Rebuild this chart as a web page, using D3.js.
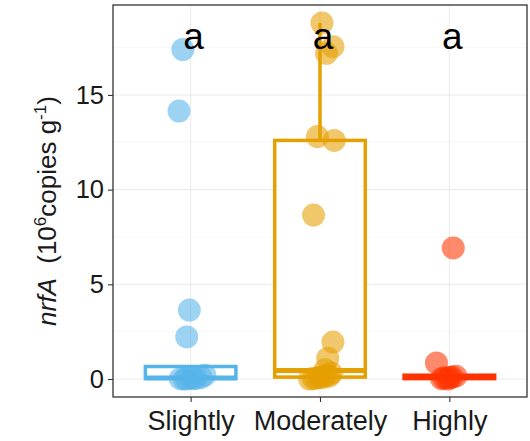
<!DOCTYPE html>
<html>
<head>
<meta charset="utf-8">
<script src="https://cdn.jsdelivr.net/npm/d3@7"></script>
<style>
  html, body { margin: 0; padding: 0; background: #fff; }
  svg { display: block; font-family: "Liberation Sans", Arial, sans-serif; }
</style>
</head>
<body>
<svg id="chart" width="530" height="441"></svg>
<script>
// Salinity groups
const categories = ["Slightly", "Moderately", "Highly"];
const colors = ["#56B4E9", "#E69F00", "#FF3300"];
const letters = ["a", "a", "a"];

// nrfA abundance per sample (10^6 copies g^-1) and horizontal jitter (category units)
const slightlyValues = [17.4, 14.15, 3.64, 2.22, 0.2, 0.02, 0.01, 0.05, 0.03, 0.08, 0.0, 0.04];
const slightlyJitter = [-0.06, -0.09, -0.01, -0.03, 0.11, -0.08, -0.03, 0.0, 0.04, 0.08, -0.05, 0.02];
const moderatelyValues = [18.8, 17.55, 17.2, 12.8, 12.6, 8.66, 1.95, 1.1, 0.5, 0.0, 0.05, 0.1, 0.2, 0.3, 0.02, 0.08, 0.15];
const moderatelyJitter = [0.015, 0.1, 0.05, -0.02, 0.11, -0.05, 0.1, 0.06, 0.04, -0.08, -0.03, 0.0, 0.05, 0.09, -0.05, 0.02, 0.07];
const highlyValues = [6.92, 0.85, 0.05, 0.1, 0.0, 0.15, 0.02, 0.08];
const highlyJitter = [0.03, -0.1, -0.04, 0.02, -0.01, 0.05, -0.06, 0.0];

// Box summaries: lower whisker, Q1, median, Q3, upper whisker
const boxMin = [0.0, 0.0, 0.0];
const boxQ1 = [0.02, 0.1, 0.02];
const boxMedian = [0.06, 0.45, 0.1];
const boxQ3 = [0.66, 12.6, 0.2];
const boxMax = [0.2, 18.8, 0.3];

const yTicks = [0, 5, 10, 15];
const yMinor = [2.5, 7.5, 12.5, 17.5];

const groups = [
  { values: slightlyValues, jitter: slightlyJitter },
  { values: moderatelyValues, jitter: moderatelyJitter },
  { values: highlyValues, jitter: highlyJitter }
];

const svg = d3.select("#chart");
const panel = { left: 113, right: 527, top: 5, bottom: 397 };

const x = d3.scalePoint().domain(categories).range([panel.left, panel.right]).padding(0.6);
const y = d3.scaleLinear().domain([-0.95, 19.75]).range([panel.bottom, panel.top]);
const step = x.step();

// grid
const grid = svg.append("g");
grid.selectAll("line.minor").data(yMinor).join("line")
  .attr("x1", panel.left).attr("x2", panel.right)
  .attr("y1", d => y(d)).attr("y2", d => y(d))
  .attr("stroke", "#f2f2f2").attr("stroke-width", 0.6);
grid.selectAll("line.majy").data(yTicks).join("line")
  .attr("x1", panel.left).attr("x2", panel.right)
  .attr("y1", d => y(d)).attr("y2", d => y(d))
  .attr("stroke", "#ebebeb").attr("stroke-width", 1.1);
grid.selectAll("line.majx").data(categories).join("line")
  .attr("x1", d => x(d)).attr("x2", d => x(d))
  .attr("y1", panel.top).attr("y2", panel.bottom)
  .attr("stroke", "#ebebeb").attr("stroke-width", 1.1);

// boxplots
const boxW = step * 0.7;
const boxes = svg.append("g");
categories.forEach((c, i) => {
  const g = boxes.append("g");
  const cx = x(c);
  const sw = 3.5;
  g.append("line")
    .attr("x1", cx).attr("x2", cx)
    .attr("y1", y(boxQ3[i])).attr("y2", y(boxMax[i]))
    .attr("stroke", colors[i]).attr("stroke-width", sw);
  g.append("line")
    .attr("x1", cx).attr("x2", cx)
    .attr("y1", y(boxQ1[i])).attr("y2", y(boxMin[i]))
    .attr("stroke", colors[i]).attr("stroke-width", sw);
  g.append("rect")
    .attr("x", cx - boxW / 2).attr("width", boxW)
    .attr("y", y(boxQ3[i])).attr("height", y(boxQ1[i]) - y(boxQ3[i]))
    .attr("fill", "#fff").attr("stroke", colors[i]).attr("stroke-width", sw);
  g.append("line")
    .attr("x1", cx - boxW / 2).attr("x2", cx + boxW / 2)
    .attr("y1", y(boxMedian[i])).attr("y2", y(boxMedian[i]))
    .attr("stroke", colors[i]).attr("stroke-width", sw * 1.4);
});

// jittered samples
const pts = svg.append("g");
groups.forEach((grp, i) => {
  pts.selectAll(null).data(grp.values.map((v, k) => ({ v, j: grp.jitter[k] })))
    .join("circle")
    .attr("cx", d => x(categories[i]) + d.j * step)
    .attr("cy", d => y(d.v))
    .attr("r", 11.5)
    .attr("fill", colors[i])
    .attr("fill-opacity", 0.58);
});

// significance letters
svg.append("g").selectAll("text").data(letters).join("text")
  .attr("x", (d, i) => x(categories[i]) + 3)
  .attr("y", y(17.45))
  .attr("text-anchor", "middle")
  .attr("font-size", 37)
  .attr("fill", "#000")
  .text(d => d);

// panel border
svg.append("rect")
  .attr("x", panel.left).attr("y", panel.top)
  .attr("width", panel.right - panel.left).attr("height", panel.bottom - panel.top)
  .attr("fill", "none").attr("stroke", "#333").attr("stroke-width", 1.3);

// axes
const yAxis = svg.append("g")
  .attr("transform", `translate(${panel.left},0)`)
  .call(d3.axisLeft(y).tickValues(yTicks).tickSize(5).tickPadding(4).tickFormat(d3.format("d")));
yAxis.select(".domain").remove();
yAxis.selectAll("line").attr("stroke", "#333").attr("stroke-width", 1.1);
yAxis.selectAll("text").attr("font-size", 25.5).attr("fill", "#1a1a1a")
  .attr("font-family", "Liberation Sans, Arial, sans-serif");

const xAxis = svg.append("g")
  .attr("transform", `translate(0,${panel.bottom})`)
  .call(d3.axisBottom(x).tickSize(5).tickPadding(9));
xAxis.select(".domain").remove();
xAxis.selectAll("line").attr("stroke", "#333").attr("stroke-width", 1.1);
xAxis.selectAll("text").attr("font-size", 27).attr("fill", "#1a1a1a")
  .attr("font-family", "Liberation Sans, Arial, sans-serif");

// y-axis title
const title = svg.append("text")
  .attr("transform", `translate(56,${(panel.top + panel.bottom) / 2 + 10}) rotate(-90)`)
  .attr("text-anchor", "middle")
  .attr("font-size", 26)
  .attr("fill", "#1a1a1a");
title.append("tspan").attr("font-style", "italic").text("nrfA");
title.append("tspan").text("\u00a0 (10");
title.append("tspan").attr("font-size", 17).attr("dy", -10).text("6");
title.append("tspan").attr("dy", 10).text("copies g");
title.append("tspan").attr("font-size", 17).attr("dy", -10).text("-1");
title.append("tspan").attr("dy", 10).text(")");
</script>
</body>
</html>
